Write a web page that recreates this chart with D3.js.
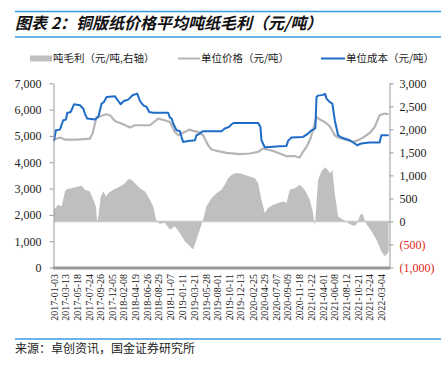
<!DOCTYPE html>
<html>
<head>
<meta charset="utf-8">
<script src="https://cdn.jsdelivr.net/npm/d3@7"></script>
<style>
  body { margin: 0; background: #fff; }
</style>
</head>
<body>
<div id="chart"></div>
<script>
// ---- data ----
var xTickLabels = ["2017-01-03","2017-03-13","2017-05-18","2017-07-24","2017-09-26","2017-12-05",
  "2018-02-08","2018-04-19","2018-06-26","2018-08-29","2018-11-07","2019-01-11","2019-03-21",
  "2019-05-28","2019-08-01","2019-10-11","2019-12-13","2020-02-25","2020-04-29","2020-07-07",
  "2020-09-09","2020-11-18","2021-01-22","2021-04-01","2021-06-08","2021-08-12","2021-10-21",
  "2021-12-24","2022-03-04"];
var leftTicks = [0, 1000, 2000, 3000, 4000, 5000, 6000, 7000];
var rightTicks = [-1000, -500, 0, 500, 1000, 1500, 2000, 2500, 3000];

// unit cost (left axis)
var costSeries = [
  ["2017-01-03",4800],["2017-01-14",5216],["2017-02-06",5240],["2017-02-25",5596],["2017-03-13",5620],
  ["2017-03-20",5873],["2017-04-09",5910],["2017-04-28",6202],["2017-06-01",6164],["2017-06-20",6040],
  ["2017-06-30",5850],["2017-07-13",5660],["2017-08-27",5622],["2017-09-15",5720],["2017-10-04",6229],
  ["2017-10-17",6290],["2017-11-02",6480],["2017-12-20",6506],["2018-01-08",6328],["2018-01-21",6202],
  ["2018-02-09",6328],["2018-03-06",6381],["2018-03-31",6544],["2018-04-27",6608],["2018-05-13",6328],
  ["2018-06-01",6164],["2018-06-20",6100],["2018-07-05",5910],["2018-07-28",5880],["2018-10-22",5880],
  ["2018-11-01",5698],["2018-11-11",5660],["2018-11-20",5470],["2018-12-09",5216],["2018-12-28",5190],
  ["2019-01-07",4962],["2019-01-16",4773],["2019-02-14",4811],["2019-03-25",4837],["2019-04-03",5026],
  ["2019-04-22",5090],["2019-05-08",5178],["2019-08-25",5178],["2019-09-13",5280],["2019-10-08",5342],
  ["2019-10-22",5444],["2019-11-04",5493],["2020-03-23",5493],["2020-04-05",5342],["2020-04-11",4837],
  ["2020-04-30",4570],["2020-05-29",4583],["2020-07-25",4609],["2020-09-02",4620],["2020-09-11",4811],
  ["2020-10-01",4939],["2020-12-06",4962],["2021-01-04",5090],["2021-01-24",5216],["2021-02-06",5240],
  ["2021-02-15",5300],["2021-02-22",6480],["2021-03-03",6532],["2021-03-31",6560],["2021-04-12",6600],
  ["2021-04-20",6418],["2021-05-09",6290],["2021-05-24",6229],["2021-06-07",5596],["2021-06-26",5026],
  ["2021-07-15",4939],["2021-09-01",4837],["2021-09-30",4712],["2021-10-13",4647],["2021-11-07",4712],
  ["2021-12-25",4750],["2022-02-20",4750],["2022-03-02",5026],["2022-04-13",5026]
];

// unit price (left axis)
var priceSeries = [
  ["2017-01-03",4863],["2017-02-06",4939],["2017-03-07",4863],["2017-05-13",4863],["2017-07-29",4900],
  ["2017-08-13",5090],["2017-08-27",5470],["2017-09-05",5720],["2017-09-24",5747],["2017-11-02",5823],
  ["2017-11-21",5785],["2017-12-20",5570],["2018-02-05",5444],["2018-03-16",5318],["2018-04-14",5406],
  ["2018-07-09",5406],["2018-08-26",5660],["2018-10-03",5596],["2018-11-01",5531],["2018-11-11",5406],
  ["2018-11-30",5152],["2018-12-19",5026],["2019-01-07",5090],["2019-02-24",5240],["2019-03-15",5190],
  ["2019-04-13",5152],["2019-05-11",5026],["2019-06-09",4647],["2019-06-29",4484],["2019-08-06",4420],
  ["2019-09-23",4355],["2019-12-08",4306],["2020-02-04",4332],["2020-03-23",4393],["2020-04-20",4522],
  ["2020-06-17",4431],["2020-07-25",4330],["2020-09-02",4230],["2020-10-20",4230],["2020-11-17",4180],
  ["2020-12-06",4393],["2020-12-26",4583],["2021-01-18",4900],["2021-02-02",5240],["2021-02-22",5720],
  ["2021-03-13",5622],["2021-04-10",5531],["2021-05-09",5368],["2021-06-07",5026],["2021-06-26",4939],
  ["2021-08-03",4863],["2021-09-20",4773],["2021-10-09",4811],["2021-11-07",4900],["2021-12-06",5026],
  ["2021-12-25",5114],["2022-01-23",5342],["2022-02-20",5785],["2022-03-21",5850],["2022-04-13",5823]
];

// gross profit per ton (right axis)
var profitSeries = [
  ["2017-01-03",254],["2017-01-18",326],["2017-01-28",362],["2017-02-16",326],["2017-03-07",650],
  ["2017-03-17",701],["2017-04-15",723],["2017-05-23",758],["2017-06-11",773],["2017-06-30",686],
  ["2017-07-29",650],["2017-08-17",470],["2017-09-01",326],["2017-09-09",-34],["2017-09-15",109],
  ["2017-09-29",542],["2017-10-14",650],["2017-10-29",542],["2017-11-11",614],["2017-12-10",686],
  ["2018-01-18",758],["2018-02-15",831],["2018-03-06",918],["2018-03-26",903],["2018-04-14",831],
  ["2018-05-13",723],["2018-06-11",650],["2018-07-09",470],["2018-07-28",326],["2018-08-16",0],
  ["2018-09-04",-49],["2018-10-03",-30],["2018-11-01",-178],["2018-11-30",-106],["2018-12-28",-250],
  ["2019-01-26",-431],["2019-02-24",-539],["2019-03-15",-611],["2019-04-03",-395],["2019-04-22",-178],
  ["2019-05-11",38],["2019-05-30",326],["2019-06-29",507],["2019-07-27",614],["2019-08-25",686],
  ["2019-09-13",795],["2019-10-02",939],["2019-10-22",1011],["2019-11-10",1047],["2019-12-08",1047],
  ["2020-01-06",1011],["2020-02-04",975],["2020-03-04",939],["2020-03-23",831],["2020-04-11",470],
  ["2020-04-30",182],["2020-05-19",290],["2020-06-17",362],["2020-07-25",412],["2020-08-13",434],
  ["2020-09-02",398],["2020-09-21",686],["2020-10-20",723],["2020-11-17",795],["2020-12-16",686],
  ["2021-01-14",470],["2021-02-02",182],["2021-02-12",-106],["2021-02-18",182],["2021-03-03",903],
  ["2021-03-22",1083],["2021-04-10",1177],["2021-04-29",1119],["2021-05-09",1047],["2021-05-24",1119],
  ["2021-06-07",614],["2021-06-26",109],["2021-07-25",38],["2021-08-22",-34],["2021-09-20",-92],
  ["2021-10-09",-70],["2021-11-01",146],["2021-11-13",168],["2021-11-26",38],["2021-12-09",-70],
  ["2022-01-04",-214],["2022-02-02",-395],["2022-03-02",-647],["2022-03-21",-755],["2022-04-09",-683],
  ["2022-04-13",-647]
];

var W = 445, H = 365;
var parse = d3.timeParse("%Y-%m-%d");
var serif = "'Liberation Serif', 'Times New Roman', serif";
var cjk = "'Noto Sans CJK SC', sans-serif";

var svg = d3.select("#chart").append("svg")
    .attr("width", W).attr("height", H);

// title with blue rules
svg.append("line").attr("x1", 15).attr("x2", 441).attr("y1", 11.5).attr("y2", 11.5)
    .style("stroke", "#3b9be0").style("stroke-width", 1.5);
svg.append("line").attr("x1", 15).attr("x2", 441).attr("y1", 37).attr("y2", 37)
    .style("stroke", "#3b9be0").style("stroke-width", 1.5);
svg.append("text")
    .attr("x", 15).attr("y", 29)
    .style("font-family", cjk)
    .style("font-size", "16px")
    .style("font-weight", "bold")
    .style("font-style", "italic")
    .style("fill", "#111")
    .text("图表 2：铜版纸价格平均吨纸毛利（元/吨）");

// scales
var x = d3.scaleTime()
    .domain([parse("2017-01-03"), parse("2022-04-15")])
    .range([54, 389]);
var yL = d3.scaleLinear().domain([0, 7000]).range([267.5, 83.3]);
var yR = d3.scaleLinear().domain([-1000, 3000]).range([267.5, 83.3]);

// profit area
var area = d3.area()
    .x(function (d) { return x(parse(d[0])); })
    .y0(yR(0))
    .y1(function (d) { return yR(d[1]); });
svg.append("path")
    .datum(profitSeries)
    .attr("d", area)
    .style("fill", "#bfbfbf");

// zero line of right axis
svg.append("line")
    .attr("x1", 54).attr("x2", 389)
    .attr("y1", yR(0)).attr("y2", yR(0))
    .style("stroke", "#c8c8c8").style("stroke-width", 1.5);

// lines
var lineL = d3.line()
    .x(function (d) { return x(parse(d[0])); })
    .y(function (d) { return yL(d[1]); });
svg.append("path")
    .datum(priceSeries)
    .attr("d", lineL)
    .style("fill", "none")
    .style("stroke", "#b5b5b5")
    .style("stroke-width", 2.2)
    .style("stroke-linejoin", "round");
svg.append("path")
    .datum(costSeries)
    .attr("d", lineL)
    .style("fill", "none")
    .style("stroke", "#1e6cc8")
    .style("stroke-width", 2)
    .style("stroke-linejoin", "round");

// left axis
var gl = svg.append("g")
    .attr("transform", "translate(53.5,0)")
    .call(d3.axisLeft(yL).tickValues(leftTicks).tickSize(4).tickPadding(8)
        .tickSizeOuter(0).tickFormat(d3.format(",")));
gl.selectAll("path, line").style("stroke", "#999");
gl.selectAll("text").style("font-family", serif).style("font-size", "12px").style("fill", "#222");

// right axis
var gr = svg.append("g")
    .attr("transform", "translate(389.5,0)")
    .call(d3.axisRight(yR).tickValues(rightTicks).tickSize(4).tickPadding(6)
        .tickSizeOuter(0)
        .tickFormat(function (d) {
          return d < 0 ? "(" + d3.format(",")(-d) + ")" : d3.format(",")(d);
        }));
gr.selectAll("path, line").style("stroke", "#999");
gr.selectAll("text").style("font-family", serif).style("font-size", "12px")
    .style("fill", function (d) { return d < 0 ? "#e0261e" : "#222"; });

// bottom axis
svg.append("line")
    .attr("x1", 53).attr("x2", 390)
    .attr("y1", 268).attr("y2", 268)
    .style("stroke", "#999").style("stroke-width", 3);
svg.selectAll("text.xlab")
    .data(xTickLabels)
    .enter()
    .append("text")
    .attr("class", "xlab")
    .attr("transform", function (d) { return "translate(" + x(parse(d)) + ",274) rotate(-90)"; })
    .attr("text-anchor", "end")
    .attr("dy", "0.35em")
    .style("font-family", serif)
    .style("font-size", "10px")
    .style("fill", "#222")
    .text(function (d) { return d; });

// legend
var legY = 58.5;
svg.append("rect").attr("x", 30).attr("y", legY - 3).attr("width", 22).attr("height", 6)
    .style("fill", "#bfbfbf");
svg.append("line").attr("x1", 178).attr("x2", 200).attr("y1", legY).attr("y2", legY)
    .style("stroke", "#b5b5b5").style("stroke-width", 2);
svg.append("line").attr("x1", 321).attr("x2", 345).attr("y1", legY).attr("y2", legY)
    .style("stroke", "#1e6cc8").style("stroke-width", 2);
svg.selectAll("text.leg")
    .data([[53, "吨毛利（元/吨,右轴）"], [201, "单位价格（元/吨）"], [346, "单位成本（元/吨）"]])
    .enter()
    .append("text")
    .attr("class", "leg")
    .attr("x", function (d) { return d[0]; })
    .attr("y", legY)
    .attr("dy", "0.36em")
    .style("font-family", cjk)
    .style("font-size", "10.5px")
    .style("fill", "#222")
    .text(function (d) { return d[1]; });

// source
svg.append("line").attr("x1", 15).attr("x2", 441).attr("y1", 339).attr("y2", 339)
    .style("stroke", "#3b9be0").style("stroke-width", 1.5);
svg.append("text")
    .attr("x", 15).attr("y", 353)
    .style("font-family", cjk)
    .style("font-size", "12px")
    .style("fill", "#222")
    .text("来源：卓创资讯，国金证券研究所");
</script>
</body>
</html>
